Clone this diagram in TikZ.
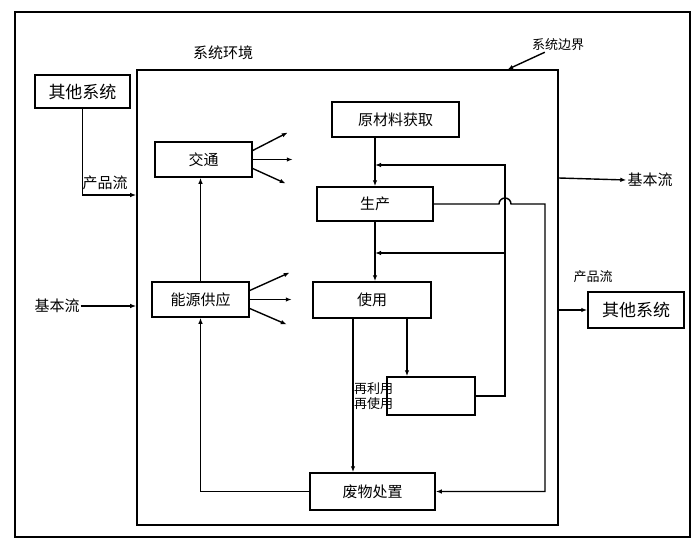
\documentclass[tikz,border=0pt]{standalone}
\usepackage{fontspec}
\setmainfont{Noto Sans CJK SC}
\usetikzlibrary{arrows.meta}

\tikzset{
    box/.style={draw, line width=1.5pt, inner sep=0pt, font=\fontsize{15}{18}\selectfont},
    flow/.style={line width=1.4pt, -{Latex[length=6pt,width=4.5pt]}},
    lbl/.style={inner sep=1pt, font=\fontsize{15}{18}\selectfont},
}

\begin{document}
\begin{tikzpicture}[x=1pt, y=-1pt]
    \useasboundingbox (0,0) rectangle (694,543);
    \draw[line width=1.8pt] (15,12) rectangle (690,537);
    \node[draw, line width=1.6pt, minimum width=421pt, minimum height=455pt] (boundary) at (347.5,297.5) {};

    % boxes
    \node[box, minimum width=95pt, minimum height=33pt, font=\fontsize{17}{20}\selectfont] (other1) at (82.5,91.5) {其他系统};
    \node[box, minimum width=96pt, minimum height=36pt, font=\fontsize{17}{20}\selectfont] (other2) at (636,310) {其他系统};
    \node[box, minimum width=97pt, minimum height=35pt] (traffic) at (203.5,159.5) {交通};
    \node[box, minimum width=127pt, minimum height=35pt] (raw) at (395.5,119.5) {原材料获取};
    \node[box, minimum width=116pt, minimum height=34pt] (prod) at (375,204) {生产};
    \node[box, minimum width=97pt, minimum height=35pt] (energy) at (200.5,299.5) {能源供应};
    \node[box, minimum width=118pt, minimum height=36pt] (use) at (372,300) {使用};
    \node[box, minimum width=88pt, minimum height=38pt] (reuse) at (431,396) {};
    \node[box, minimum width=125pt, minimum height=37pt] (waste) at (372.5,491.5) {废物处置};

    % labels
    \node[lbl] (env) at (223,53) {系统环境};
    \node[lbl, font=\fontsize{13}{16}\selectfont] (bjl) at (558,45) {系统边界};
    \node[lbl] (pl1) at (105,183) {产品流};
    \node[lbl] (jl1) at (57,306) {基本流};
    \node[lbl] (jl2) at (650,180) {基本流};
    \node[lbl, font=\fontsize{13}{16}\selectfont] (pl2) at (593,277) {产品流};
    \node[lbl, anchor=west, align=left, font=\fontsize{13}{15}\selectfont] (reuselbl) at (353,396) {再利用\\再使用};

    % flows across the boundary
    \draw[flow] (other1.south) |- (boundary.west |- 0,195);
    \draw[flow] (jl1.east) -- (boundary.west |- jl1.east);
    \draw[flow] (boundary.east |- 0,178) -- (jl2.west);
    \draw[flow] (boundary.east |- other2.west) -- (other2.west);
    \draw[line width=1.4pt, -{Latex[length=5pt,width=4.5pt]}] ([xshift=14pt]bjl.south west) -- (boundary.north -| 508,0);

    % inner flows
    \draw[flow] (raw.south -| prod.north) -- (prod.north);
    \draw[flow] (prod.south) -- (prod.south |- use.north);
    \draw[flow] (energy.north) -- (energy.north |- traffic.south);
    \draw[flow] (waste.west) -| (energy.south);
    \draw[flow] ([xshift=-19pt]use.south) -- ([xshift=-19pt]use.south |- waste.north);
    \draw[flow] ([xshift=35pt]use.south) -- ([xshift=35pt]use.south |- reuse.north);
    \draw[flow] (reuse.east) -| (505,165) -- (prod.north |- 0,165);
    \draw[flow] (505,253) -- (prod.south |- 0,253);
    \draw[flow] (prod.east) -- (499,204) arc[start angle=180, end angle=360, radius=6] -- (545,204) |- (waste.east);

    % emissions
    \draw[flow] ([yshift=9pt]traffic.east) -- ++(35,-18);
    \draw[flow] (traffic.east) -- ++(40,0);
    \draw[flow] ([yshift=-9pt]traffic.east) -- ++(33,15);
    \draw[flow] ([yshift=9pt]energy.east) -- ++(40,-18);
    \draw[flow] (energy.east) -- ++(42,0);
    \draw[flow] ([yshift=-9pt]energy.east) -- ++(37,16);
\end{tikzpicture}
\end{document}
